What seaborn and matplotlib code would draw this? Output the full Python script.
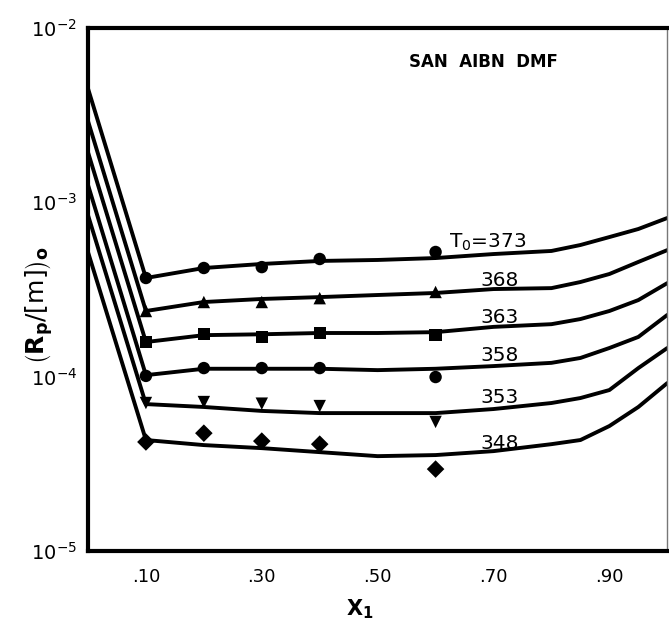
import numpy as np
import pandas as pd
import matplotlib
matplotlib.use("Agg")
import matplotlib.pyplot as plt
import seaborn as sns
from matplotlib.ticker import FixedLocator, LogLocator, NullFormatter

# ---------------- data ----------------
temps = ["373", "368", "363", "358", "353", "348"]

x_curve = [0.0, 0.1, 0.2, 0.3, 0.4, 0.5, 0.6, 0.7, 0.8, 0.85, 0.9, 0.95, 1.0]
curve_373 = [4.5e-3, 3.68e-4, 4.20e-4, 4.43e-4, 4.61e-4, 4.67e-4, 4.79e-4, 5.05e-4, 5.26e-4, 5.69e-4, 6.32e-4, 7.03e-4, 8.13e-4]
curve_368 = [2.93e-3, 2.38e-4, 2.68e-4, 2.79e-4, 2.86e-4, 2.94e-4, 3.02e-4, 3.18e-4, 3.22e-4, 3.49e-4, 3.88e-4, 4.55e-4, 5.32e-4]
curve_363 = [1.94e-3, 1.58e-4, 1.73e-4, 1.75e-4, 1.78e-4, 1.78e-4, 1.80e-4, 1.93e-4, 2.00e-4, 2.14e-4, 2.38e-4, 2.75e-4, 3.44e-4]
curve_358 = [1.26e-3, 1.02e-4, 1.11e-4, 1.11e-4, 1.11e-4, 1.09e-4, 1.11e-4, 1.15e-4, 1.20e-4, 1.28e-4, 1.46e-4, 1.69e-4, 2.26e-4]
curve_353 = [8.45e-4, 6.96e-5, 6.70e-5, 6.36e-5, 6.18e-5, 6.18e-5, 6.18e-5, 6.52e-5, 7.06e-5, 7.54e-5, 8.38e-5, 1.12e-4, 1.46e-4]
curve_348 = [5.19e-4, 4.33e-5, 4.05e-5, 3.89e-5, 3.69e-5, 3.50e-5, 3.55e-5, 3.74e-5, 4.10e-5, 4.33e-5, 5.21e-5, 6.70e-5, 9.19e-5]

x_points = [0.1, 0.2, 0.3, 0.4, 0.6]
pts_373 = [3.68e-4, 4.20e-4, 4.25e-4, 4.73e-4, 5.19e-4]
pts_368 = [2.38e-4, 2.68e-4, 2.68e-4, 2.82e-4, 3.06e-4]
pts_363 = [1.58e-4, 1.75e-4, 1.69e-4, 1.78e-4, 1.73e-4]
pts_358 = [1.01e-4, 1.12e-4, 1.12e-4, 1.12e-4, 9.95e-5]
pts_353 = [7.06e-5, 7.15e-5, 7.00e-5, 6.78e-5, 5.50e-5]
pts_348 = [4.22e-5, 4.74e-5, 4.27e-5, 4.10e-5, 2.95e-5]

label_texts = ["T$_0$=373", "368", "363", "358", "353", "348"]
label_x = [0.69, 0.71, 0.71, 0.71, 0.71, 0.71]
label_y = [5.9e-4, 3.55e-4, 2.19e-4, 1.33e-4, 7.6e-5, 4.15e-5]

x_major = [0.1, 0.3, 0.5, 0.7, 0.9]
x_major_labels = [".10", ".30", ".50", ".70", ".90"]
x_minor = [0.2, 0.4, 0.6, 0.8]
y_major = [1e-5, 1e-4, 1e-3, 1e-2]
y_major_labels = [r"$10^{-5}$", r"$10^{-4}$", r"$10^{-3}$", r"$10^{-2}$"]

curves = [curve_373, curve_368, curve_363, curve_358, curve_353, curve_348]
points = [pts_373, pts_368, pts_363, pts_358, pts_353, pts_348]

curve_df = pd.DataFrame(
    [(x, y, t) for t, c in zip(temps, curves) for x, y in zip(x_curve, c)],
    columns=["x", "y", "T"],
)
pts_df = pd.DataFrame(
    [(x, y, t) for t, p in zip(temps, points) for x, y in zip(x_points, p)],
    columns=["x", "y", "T"],
)

# ---------------- plot ----------------
sns.set_style("white")
plt.rcParams["font.family"] = ["DejaVu Sans"]
plt.rcParams["text.color"] = "black"
plt.rcParams["axes.labelcolor"] = "black"
plt.rcParams["xtick.color"] = "black"
plt.rcParams["ytick.color"] = "black"

fig = plt.figure(figsize=(6.69, 6.30), dpi=100)
ax = fig.add_axes([0.1315, 0.1254, 0.866, 0.8302])

sns.lineplot(data=curve_df, x="x", y="y", units="T", estimator=None,
             color="black", linewidth=2.8, ax=ax, legend=False, sort=False)

marker_map = {"373": "o", "368": "^", "363": "s", "358": "o", "353": "v", "348": "D"}
sns.scatterplot(data=pts_df, x="x", y="y", style="T", markers=marker_map,
                color="black", s=80, edgecolor="black", linewidth=0,
                ax=ax, legend=False)

ax.set_yscale("log")
ax.set_xlim(0, 1.0)
ax.set_ylim(1e-5, 1e-2)

ax.xaxis.set_major_locator(FixedLocator(x_major))
ax.set_xticklabels(x_major_labels, fontsize=13)
ax.xaxis.set_minor_locator(FixedLocator(x_minor))
ax.tick_params(axis="x", which="both", direction="out", length=4, width=2.5,
               pad=8, colors="black")

ax.yaxis.set_major_locator(FixedLocator(y_major))
ax.set_yticklabels(y_major_labels, fontsize=14)
ax.yaxis.set_minor_locator(LogLocator(base=10, subs=np.arange(2, 10)))
ax.yaxis.set_minor_formatter(NullFormatter())
ax.tick_params(axis="y", which="both", direction="inout", length=4, width=2.5,
               pad=6, colors="black")

for side in ["left", "bottom", "top"]:
    ax.spines[side].set_linewidth(3)
    ax.spines[side].set_color("black")
ax.spines["right"].set_linewidth(1)
ax.spines["right"].set_color("#777777")

ax.set_xlabel(r"$\mathbf{X}_{\mathbf{1}}$", fontsize=15, color="black")
ax.xaxis.set_label_coords(0.47, -0.088)
ax.set_ylabel(r"$\left(\mathbf{R}_{\mathbf{p}}/[\mathrm{m}]\right)_{\mathbf{o}}$",
              fontsize=18, color="black")
ax.yaxis.set_label_coords(-0.057, 0.47)

for txt, tx, ty in zip(label_texts, label_x, label_y):
    ax.text(tx, ty, txt, fontsize=14.5, ha="center", va="center", color="black")

ax.text(0.683, 0.935, "SAN  AIBN  DMF", transform=ax.transAxes,
        fontsize=12, fontweight="bold", ha="center", va="center", color="black")

fig.savefig("out.png", dpi=100, facecolor="white")
